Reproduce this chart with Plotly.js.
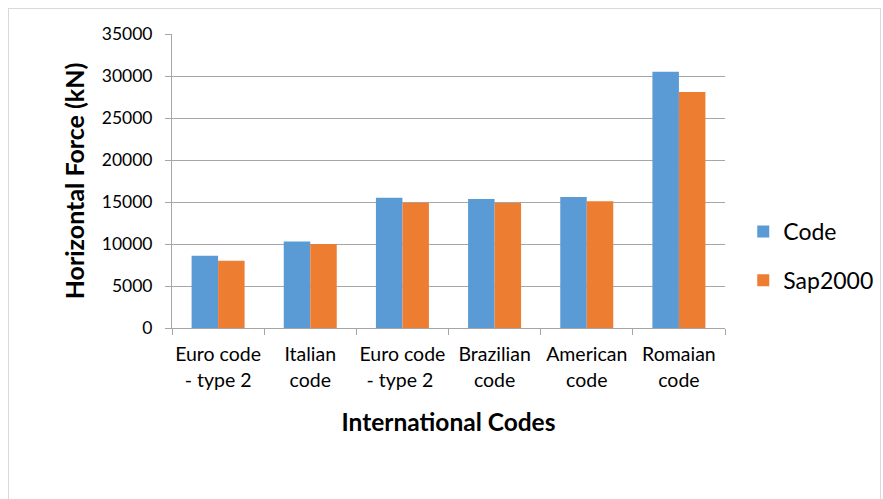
<!DOCTYPE html>
<html>
<head>
<meta charset="utf-8">
<script src="https://cdn.plot.ly/plotly-3.0.1.min.js"></script>
<style>
html,body{margin:0;padding:0;background:#fff;}
#wrap{position:relative;width:883px;height:499px;overflow:hidden;}
#chart{width:883px;height:499px;}
#frame{position:absolute;left:8px;top:8px;width:871px;height:520px;border:1px solid #d9d9d9;pointer-events:none;}
</style>
</head>
<body>
<div id="wrap"><div id="chart"></div><div id="frame"></div></div>
<script>
var categories = ["Euro code<br>- type 2", "Italian<br>code", "Euro code<br>- type 2 ", "Brazilian<br>code", "American<br>code", "Romaian<br>code"];
var codeValues = [8600, 10300, 15500, 15350, 15600, 30500];
var sapValues = [8000, 10000, 14900, 14880, 15100, 28100];
var yTicks = [0, 5000, 10000, 15000, 20000, 25000, 30000, 35000];

var font = "Lato, 'Open Sans', 'Liberation Sans', sans-serif";
var traces = [
  {type:"bar", name:"Code", x:categories, y:codeValues, marker:{color:"#5b9bd5"}, legendgroup:"a"},
  {type:"bar", name:"Sap2000", x:categories, y:sapValues, marker:{color:"#ed7d31"}, legendgroup:"b"}
];
var layout = {
  width:883, height:499,
  margin:{l:172, r:158, t:34, b:171, autoexpand:false},
  paper_bgcolor:"#fff", plot_bgcolor:"#fff",
  font:{family:font, color:"#000", size:17},
  barmode:"group", bargap:0.425, bargroupgap:0,
  xaxis:{type:"category", tickson:"boundaries", ticks:"outside", ticklen:6, tickcolor:"#a6a6a6",
    showline:true, linecolor:"#a6a6a6", linewidth:1, showgrid:false, automargin:false,
    tickangle:0, tickfont:{size:19.5, family:font}, ticklabelstandoff:9,
    title:{text:"<b>International Codes</b>", font:{size:24.5, family:font}, standoff:24}},
  yaxis:{range:[0,35000], tickvals:yTicks, ticktext:yTicks.map(String), tickmode:"array",
    ticks:"outside", ticklen:6, tickcolor:"#a6a6a6", automargin:false,
    showline:true, linecolor:"#a6a6a6", linewidth:1,
    showgrid:true, gridcolor:"#a6a6a6", gridwidth:1, zeroline:false,
    tickfont:{size:17.5, family:font}, ticklabelstandoff:9,
    title:{text:"<b>Horizontal Force (kN)</b>", font:{size:25, family:font}, standoff:10}},
  legend:{x:1.033, y:0.245, xanchor:"left", yanchor:"middle", font:{size:23, family:font},
    tracegroupgap:16, itemwidth:30},
  showlegend:true
};
Plotly.newPlot("chart", traces, layout, {displayModeBar:false, staticPlot:true});
</script>
</body>
</html>
